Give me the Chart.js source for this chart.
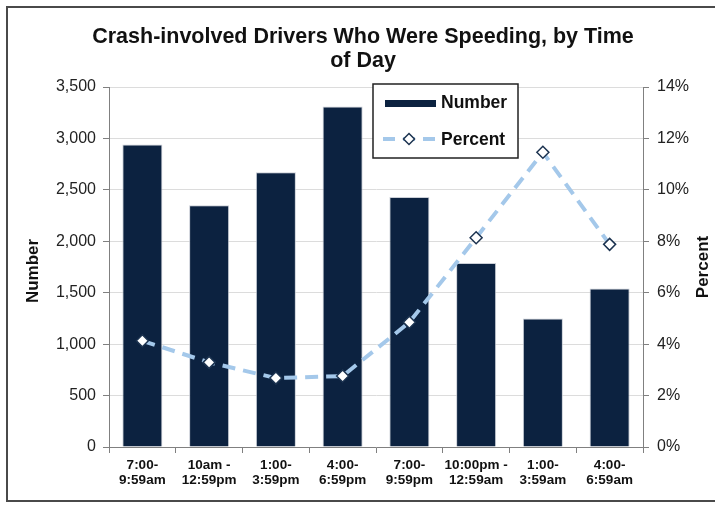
<!DOCTYPE html>
<html>
<head>
<meta charset="utf-8">
<script src="https://cdn.jsdelivr.net/npm/chart.js@4/dist/chart.umd.min.js"></script>
<style>
html,body{margin:0;padding:0;background:#fff;}
#wrap{width:715px;height:506px;position:relative;}
</style>
</head>
<body>
<div id="wrap"><canvas id="c" width="715" height="506"></canvas></div>
<script>
const titleLines = ["Crash-involved Drivers Who Were Speeding, by Time", "of Day"];
const categories = [["7:00-","9:59am"],["10am -","12:59pm"],["1:00-","3:59pm"],["4:00-","6:59pm"],["7:00-","9:59pm"],["10:00pm -","12:59am"],["1:00-","3:59am"],["4:00-","6:59am"]];
const numberValues = [2940, 2350, 2670, 3310, 2430, 1790, 1250, 1540];
const percentValues = [4.13, 3.29, 2.68, 2.76, 4.85, 8.14, 11.46, 7.88];
const leftAxisTitle = "Number";
const rightAxisTitle = "Percent";

const FONT = "'Liberation Sans', Arial, sans-serif";
const BAR_COLOR = '#0c2240';
const LINE_COLOR = '#a4c8ea';

const decor = {
  id: 'decor',
  beforeDraw(chart) {
    const ctx = chart.ctx;
    ctx.save();
    ctx.fillStyle = '#fff';
    ctx.fillRect(0, 0, chart.width, chart.height);
    ctx.strokeStyle = '#4a4a4a';
    ctx.lineWidth = 2;
    ctx.strokeRect(7, 7, 730, 494);
    ctx.restore();
  },
  afterDraw(chart) {
    const ctx = chart.ctx;
    const ca = chart.chartArea;
    ctx.save();
    // title
    ctx.fillStyle = '#111';
    ctx.font = 'bold 21.5px ' + FONT;
    ctx.textAlign = 'center';
    ctx.textBaseline = 'middle';
    ctx.fillText(titleLines[0], 363, 37);
    ctx.fillText(titleLines[1], 363, 61);
    // axis titles
    ctx.font = 'bold 17px ' + FONT;
    ctx.save();
    ctx.translate(33, (ca.top + ca.bottom) / 2 + 4);
    ctx.rotate(-Math.PI / 2);
    ctx.fillText(leftAxisTitle, 0, 0);
    ctx.restore();
    ctx.save();
    ctx.translate(703, (ca.top + ca.bottom) / 2);
    ctx.rotate(-Math.PI / 2);
    ctx.fillText(rightAxisTitle, 0, 0);
    ctx.restore();
    // legend
    const bx = 373, by = 84, bw = 145, bh = 74;
    ctx.fillStyle = '#fff';
    ctx.fillRect(bx, by, bw, bh);
    ctx.strokeStyle = '#222';
    ctx.lineWidth = 1.5;
    ctx.strokeRect(bx, by, bw, bh);
    const ds = chart.data.datasets;
    ctx.fillStyle = ds[0].backgroundColor;
    ctx.fillRect(385, 100, 51, 7);
    ctx.strokeStyle = ds[1].borderColor;
    ctx.lineWidth = 4;
    ctx.setLineDash([12, 8]);
    ctx.beginPath();
    ctx.moveTo(383, 139);
    ctx.lineTo(436, 139);
    ctx.stroke();
    ctx.setLineDash([]);
    ctx.fillStyle = '#fff';
    ctx.strokeStyle = ds[1].pointBorderColor;
    ctx.lineWidth = 1.5;
    ctx.beginPath();
    ctx.moveTo(409, 133.5); ctx.lineTo(414.5, 139); ctx.lineTo(409, 144.5); ctx.lineTo(403.5, 139); ctx.closePath();
    ctx.fill(); ctx.stroke();
    ctx.fillStyle = '#111';
    ctx.font = 'bold 17.5px ' + FONT;
    ctx.textAlign = 'left';
    ctx.fillText(ds[0].label, 441, 103);
    ctx.fillText(ds[1].label, 441, 140);
    ctx.restore();
  }
};

new Chart(document.getElementById('c'), {
  type: 'bar',
  data: {
    labels: categories,
    datasets: [
      {
        type: 'bar', label: 'Number', data: numberValues, yAxisID: 'y',
        backgroundColor: BAR_COLOR, borderColor: 'rgba(190,195,205,0.8)', borderWidth: 1,
        barPercentage: 0.6, categoryPercentage: 1.0, order: 2
      },
      {
        type: 'line', label: 'Percent', data: percentValues, yAxisID: 'y1',
        borderColor: LINE_COLOR, borderWidth: 4, borderDash: [13, 8], fill: false, tension: 0,
        pointStyle: 'rectRot', pointRadius: 6, pointBackgroundColor: '#fff',
        pointBorderColor: '#1c3350', pointBorderWidth: 1.5, order: 1
      }
    ]
  },
  options: {
    responsive: false, animation: false, devicePixelRatio: 1,
    layout: { padding: { top: 87, left: 0, right: 0, bottom: 0 } },
    plugins: { legend: { display: false }, title: { display: false }, tooltip: { enabled: false } },
    scales: {
      x: {
        offset: true,
        grid: { offset: true, drawOnChartArea: false, drawTicks: true, tickLength: 6, tickColor: '#808080' },
        border: { color: '#808080', width: 1 },
        ticks: { color: '#111', font: { family: FONT, size: 13.5, weight: 'bold', lineHeight: 1.12 }, padding: 5, maxRotation: 0, autoSkip: false },
        afterFit(s) { s.height = 59; }
      },
      y: {
        position: 'left', min: 0, max: 3500,
        ticks: { stepSize: 500, color: '#222', font: { family: FONT, size: 16 }, padding: 7,
          callback: v => v.toLocaleString('en-US') },
        grid: { color: '#dcdcdc', tickColor: '#808080', tickLength: 6 },
        border: { color: '#808080', width: 1 },
        afterFit(s) { s.width = 109; }
      },
      y1: {
        position: 'right', min: 0, max: 14,
        ticks: { stepSize: 2, color: '#222', font: { family: FONT, size: 16 }, padding: 8,
          callback: v => v + '%' },
        grid: { drawOnChartArea: false, tickColor: '#808080', tickLength: 6 },
        border: { color: '#808080', width: 1 },
        afterFit(s) { s.width = 72; }
      }
    }
  },
  plugins: [decor]
});
</script>
</body>
</html>
